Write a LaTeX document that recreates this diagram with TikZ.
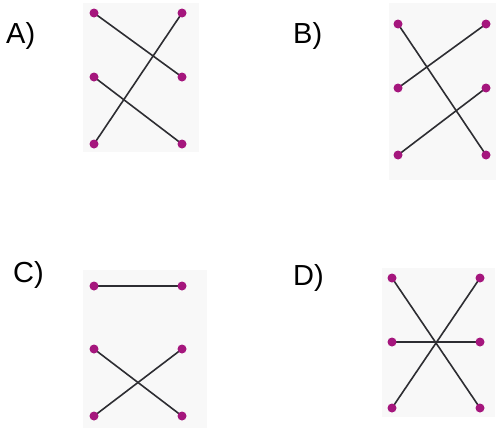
\documentclass[tikz,border=0pt]{standalone}
\usepackage{fontspec}
\setmainfont{Liberation Sans}
\pgfdeclarelayer{bg}
\pgfdeclarelayer{lines}
\pgfsetlayers{bg,lines,main}
\definecolor{dotc}{RGB}{165,22,125}
\definecolor{linec}{RGB}{45,45,50}
\definecolor{panelc}{RGB}{248,248,248}
\begin{document}
\begin{tikzpicture}[x=1pt,y=-1pt,
  dot/.style={circle,fill=dotc,inner sep=0pt,minimum size=9pt},
  link/.style={draw=linec,line width=1.6pt},
  panel/.style={fill=panelc,draw=none},
  lab/.style={anchor=base west,inner sep=0pt,font=\fontsize{29}{32}\selectfont}]
\useasboundingbox (0,0) rectangle (496,431);
% labels
\node[lab] (la) at (6,43) {A)};
\node[lab] (lb) at (293,43) {B)};
\node[lab] (lc) at (13,282) {C)};
\node[lab] (ld) at (293,285) {D)};
% panels
\begin{pgfonlayer}{bg}
\fill[panel] (83,3) rectangle (199,152);
\fill[panel] (389,3) rectangle (496,180);
\fill[panel] (83,270) rectangle (207,428);
\fill[panel] (382,268) rectangle (495,417);
\end{pgfonlayer}
% A
\node[dot] (a1) at (94,13) {};
\node[dot] (a2) at (182,13) {};
\node[dot] (a3) at (94,77) {};
\node[dot] (a4) at (182,77) {};
\node[dot] (a5) at (94,144) {};
\node[dot] (a6) at (182,144) {};
% B
\node[dot] (b1) at (398,24) {};
\node[dot] (b2) at (486,24) {};
\node[dot] (b3) at (398,88) {};
\node[dot] (b4) at (486,88) {};
\node[dot] (b5) at (398,155) {};
\node[dot] (b6) at (486,155) {};
% C
\node[dot] (c1) at (94,286) {};
\node[dot] (c2) at (182,286) {};
\node[dot] (c3) at (94,349) {};
\node[dot] (c4) at (182,349) {};
\node[dot] (c5) at (94,416) {};
\node[dot] (c6) at (182,416) {};
% D
\node[dot] (d1) at (392,278) {};
\node[dot] (d2) at (480,278) {};
\node[dot] (d3) at (392,342) {};
\node[dot] (d4) at (480,342) {};
\node[dot] (d5) at (392,408) {};
\node[dot] (d6) at (480,408) {};
\begin{pgfonlayer}{lines}
\draw[link] (a1.center) -- (a4.center);
\draw[link] (a3.center) -- (a6.center);
\draw[link] (a5.center) -- (a2.center);
\draw[link] (b1.center) -- (b6.center);
\draw[link] (b3.center) -- (b2.center);
\draw[link] (b5.center) -- (b4.center);
\draw[link] (c1.center) -- (c2.center);
\draw[link] (c3.center) -- (c6.center);
\draw[link] (c5.center) -- (c4.center);
\draw[link] (d1.center) -- (d6.center);
\draw[link] (d5.center) -- (d2.center);
\draw[link] (d3.center) -- (d4.center);
\end{pgfonlayer}
\end{tikzpicture}
\end{document}
